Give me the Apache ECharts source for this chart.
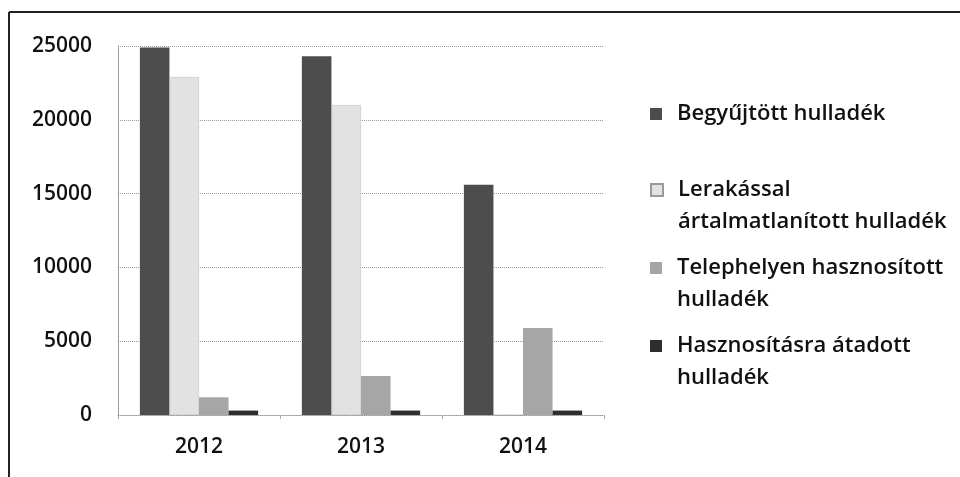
<!DOCTYPE html>
<html>
<head>
<meta charset="utf-8">
<script src="https://cdn.jsdelivr.net/npm/echarts@6/dist/echarts.min.js"></script>
<style>
html,body{margin:0;padding:0;background:#fff;}
#chart{width:960px;height:477px;}
</style>
</head>
<body>
<div id="chart"></div>
<script>
var categories = ['2012', '2013', '2014'];
var seriesNames = [
  'Begyűjtött hulladék',
  'Lerakással\nártalmatlanított hulladék',
  'Telephelyen hasznosított\nhulladék',
  'Hasznosításra átadott\nhulladék'
];
var begyujtott = [24900, 24300, 15600];
var lerakassal = [22900, 21000, 0];
var telephelyen = [1200, 2650, 5900];
var hasznositasra = [300, 300, 300];
var yTicks = [0, 5000, 10000, 15000, 20000, 25000];

var colors = ['#4d4d4d', '#e2e2e2', '#a6a6a6', '#2e2e2e'];
var values = [begyujtott, lerakassal, telephelyen, hasznositasra];
var font = '"Open Sans", "Noto Sans", sans-serif';

var chart = echarts.init(document.getElementById('chart'), null, {renderer: 'canvas'});

var singleIcon = 'path://M0,0L12,0L12,12L0,12Z M22,12L22,12';
var doubleIcon = 'path://M0,0L12,0L12,12L0,12Z M22,44L22,44';

var legendTops = [98, 174, 252, 330];
var legends = seriesNames.map(function (name, i) {
  var two = name.indexOf('\n') >= 0;
  return {
    data: [name],
    orient: 'vertical',
    left: 650,
    top: legendTops[i],
    padding: 0,
    itemWidth: 22,
    itemHeight: two ? 44 : 12,
    icon: two ? doubleIcon : singleIcon,
    selectedMode: false,
    textStyle: {fontFamily: font, fontSize: 22, fontWeight: 600, color: '#111', lineHeight: 32}
  };
});

var series = seriesNames.map(function (name, i) {
  return {
    name: name,
    type: 'bar',
    data: values[i],
    barGap: '0%',
    barCategoryGap: '27%',
    itemStyle: {color: colors[i], borderColor: i === 1 ? '#9a9a9a' : colors[i], borderWidth: i === 1 ? 0.6 : 0, borderType: 'dotted'},
    emphasis: {disabled: true}
  };
});

chart.setOption({
  animation: false,
  backgroundColor: '#fff',
  grid: {left: 118, right: 356, top: 46, bottom: 62, containLabel: false},
  legend: legends,
  xAxis: {
    type: 'category',
    data: categories,
    axisLine: {show: true, lineStyle: {color: '#999', type: 'dotted', width: 1}},
    axisTick: {show: true, length: 4, lineStyle: {color: '#aaa'}},
    axisLabel: {fontFamily: font, fontSize: 21, fontWeight: 600, color: '#111', margin: 22}
  },
  yAxis: {
    type: 'value',
    min: yTicks[0],
    max: yTicks[yTicks.length - 1],
    interval: yTicks[1] - yTicks[0],
    axisLine: {show: true, lineStyle: {color: '#888', type: 'dotted', width: 1}},
    axisTick: {show: false},
    splitLine: {show: true, lineStyle: {color: '#999', type: 'dotted', width: 1}},
    axisLabel: {fontFamily: font, fontSize: 21, fontWeight: 600, color: '#111', margin: 26,
      formatter: function (v) { return String(v); }}
  },
  series: series,
  graphic: [
    {type: 'line', shape: {x1: 9, y1: 12, x2: 960, y2: 12}, style: {stroke: '#222', lineWidth: 2}, silent: true},
    {type: 'line', shape: {x1: 9, y1: 12, x2: 9, y2: 477}, style: {stroke: '#222', lineWidth: 2}, silent: true}
  ]
});
</script>
</body>
</html>
